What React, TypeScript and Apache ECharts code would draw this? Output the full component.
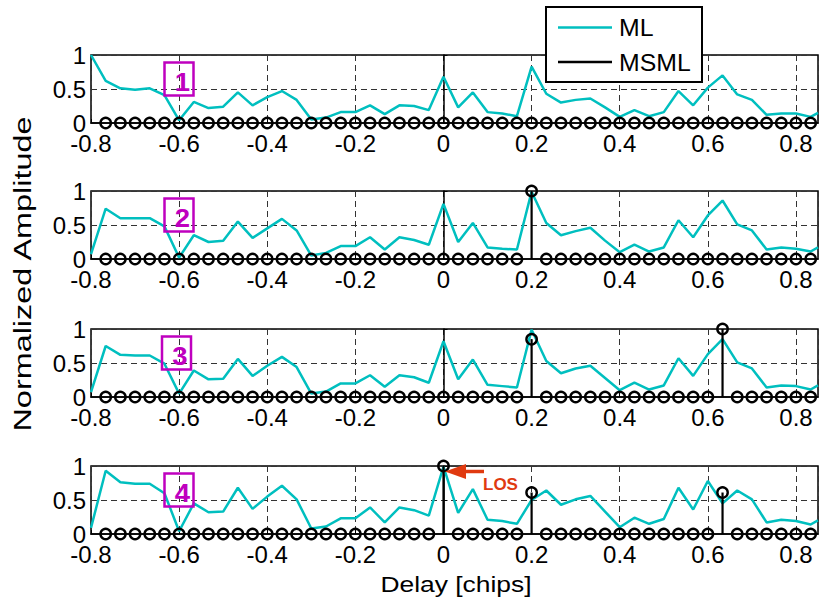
import React, { useEffect, useRef } from "react";
import * as echarts from "echarts";

// Tap spacing of the delay grid (chips) and tap index range
const TAP = 1 / 30;
const mlFirstTap = -24; // -0.8 chips
const mlLastTap = 25;
const mlEndDelay = 0.85; // axis limit, last plotted ML sample
const msmlFirstTap = -23;
const msmlLastTap = 25;

// ML normalized amplitude per panel (taps -24..25, then the 0.85 end point)
const ml1 = [1.0, 0.62, 0.51, 0.49, 0.51, 0.41, 0.04, 0.31, 0.22, 0.24, 0.45, 0.26, 0.38, 0.47, 0.34, 0.05, 0.08, 0.16, 0.16, 0.26, 0.13, 0.26, 0.25, 0.19,
  0.68, 0.23, 0.45, 0.16, 0.14, 0.10, 0.83, 0.43, 0.30, 0.34, 0.36, 0.23, 0.09, 0.19, 0.10, 0.16, 0.47, 0.26, 0.52, 0.70, 0.42, 0.34, 0.12, 0.14, 0.14, 0.09, 0.15];
const ml2 = [0.07, 0.74, 0.60, 0.60, 0.60, 0.48, 0.02, 0.35, 0.25, 0.27, 0.55, 0.31, 0.45, 0.59, 0.42, 0.05, 0.09, 0.19, 0.19, 0.32, 0.14, 0.32, 0.28, 0.21,
  0.81, 0.25, 0.53, 0.17, 0.15, 0.14, 0.99, 0.53, 0.35, 0.41, 0.46, 0.27, 0.10, 0.21, 0.11, 0.17, 0.57, 0.32, 0.64, 0.86, 0.51, 0.42, 0.14, 0.17, 0.15, 0.11, 0.17];
const ml3 = [0.07, 0.75, 0.62, 0.61, 0.61, 0.49, 0.05, 0.39, 0.26, 0.27, 0.56, 0.31, 0.46, 0.59, 0.44, 0.05, 0.08, 0.20, 0.20, 0.32, 0.15, 0.32, 0.29, 0.21,
  0.82, 0.26, 0.55, 0.18, 0.16, 0.14, 0.99, 0.53, 0.35, 0.42, 0.46, 0.28, 0.10, 0.21, 0.11, 0.17, 0.57, 0.31, 0.63, 0.85, 0.51, 0.42, 0.14, 0.17, 0.16, 0.11, 0.17];
const ml4 = [0.09, 0.93, 0.76, 0.74, 0.74, 0.60, 0.04, 0.45, 0.32, 0.33, 0.68, 0.37, 0.55, 0.71, 0.51, 0.08, 0.11, 0.23, 0.23, 0.39, 0.17, 0.39, 0.35, 0.27,
  0.99, 0.31, 0.66, 0.21, 0.19, 0.15, 0.50, 0.64, 0.43, 0.51, 0.56, 0.33, 0.10, 0.24, 0.15, 0.22, 0.68, 0.36, 0.78, 0.45, 0.64, 0.51, 0.17, 0.21, 0.19, 0.14, 0.20];

// MSML detected paths: tap indices and amplitudes (all other taps are 0)
const msml1Taps: number[] = [];
const msml1Amps: number[] = [];
const msml2Taps = [6];
const msml2Amps = [1.0];
const msml3Taps = [6, 19];
const msml3Amps = [0.85, 1.0];
const msml4Taps = [0, 6, 19];
const msml4Amps = [1.0, 0.61, 0.61];

const panelLabels = ["1", "2", "3", "4"];
const xTickStep = 0.2;
const yTicks = [0, 0.5, 1];

const FONT = "'Liberation Sans', Arial, Helvetica, sans-serif";
const CYAN = "#00BFBF";
const MAGENTA = "#BF00BF";
const RED = "#E03A10";

const mlDelays: number[] = [];
for (let k = mlFirstTap; k <= mlLastTap; k++) mlDelays.push(k * TAP);
mlDelays.push(mlEndDelay);

function msmlData(taps: number[], amps: number[]) {
  const out: number[][] = [];
  for (let k = msmlFirstTap; k <= msmlLastTap; k++) {
    const j = taps.indexOf(k);
    out.push([k * TAP, j >= 0 ? amps[j] : 0]);
  }
  return out;
}

const mlSets = [ml1, ml2, ml3, ml4];
const msmlSets = [
  msmlData(msml1Taps, msml1Amps),
  msmlData(msml2Taps, msml2Amps),
  msmlData(msml3Taps, msml3Amps),
  msmlData(msml4Taps, msml4Amps),
];

const GRID_LEFT = 91;
const GRID_WIDTH = 727;
const GRID_TOPS = [55, 191, 329, 466];
const GRID_H = 68;

export default function App() {
  const ref = useRef<HTMLDivElement>(null);
  useEffect(() => {
    if (!ref.current) return;
    const chart = echarts.init(ref.current, null, { renderer: "svg" });
    const grids: any[] = [];
    const xAxes: any[] = [];
    const yAxes: any[] = [];
    const series: any[] = [];
    const graphics: any[] = [];
    const splitStyle = { show: true, lineStyle: { color: "#333", type: [6, 4], width: 1 } };
    for (let i = 0; i < 4; i++) {
      grids.push({
        left: GRID_LEFT, width: GRID_WIDTH, top: GRID_TOPS[i], height: GRID_H,
        show: true, borderColor: "#000", borderWidth: 1.5, backgroundColor: "transparent",
      });
      xAxes.push({
        type: "value", gridIndex: i, min: -0.8, max: mlEndDelay, interval: xTickStep,
        axisLine: { show: true, onZero: false, lineStyle: { color: "#000", width: 1.5 } },
        axisTick: { show: true, inside: true, length: 4, lineStyle: { color: "#000" } },
        splitLine: splitStyle,
        axisLabel: {
          show: true, color: "#000", fontSize: 24, lineHeight: 18, fontFamily: FONT, margin: 11, showMaxLabel: false,
          formatter: (v: number) => {
            const r = Math.round(v * 10) / 10;
            return Math.abs(v - r) > 1e-6 ? "" : String(r === 0 ? 0 : r);
          },
        },
      });
      yAxes.push({
        type: "value", gridIndex: i, min: yTicks[0], max: yTicks[2], interval: yTicks[1] - yTicks[0],
        axisLine: { show: true, lineStyle: { color: "#000", width: 1.5 } },
        axisTick: { show: true, inside: true, length: 4, lineStyle: { color: "#000" } },
        splitLine: splitStyle,
        axisLabel: { color: "#000", fontSize: 24, lineHeight: 16, fontFamily: FONT, margin: 5, formatter: (v: number) => String(v) },
      });
      series.push({
        type: "line", name: "ML", xAxisIndex: i, yAxisIndex: i,
        data: mlDelays.map((x, j) => [x, mlSets[i][j]]),
        showSymbol: false, symbol: "none", clip: true,
        lineStyle: { color: CYAN, width: 2.5 }, z: 2,
      });
      series.push({
        type: "custom", name: "MSML", xAxisIndex: i, yAxisIndex: i,
        data: msmlSets[i], z: 3, clip: false,
        renderItem: (_p: any, api: any) => {
          const x = api.value(0);
          const y = api.value(1);
          const p0 = api.coord([x, 0]);
          const p1 = api.coord([x, y]);
          const children: any[] = [];
          if (y > 0) {
            children.push({ type: "line", shape: { x1: p0[0], y1: p0[1], x2: p1[0], y2: p1[1] }, style: { stroke: "#000", lineWidth: 2.2 } });
          }
          children.push({ type: "circle", shape: { cx: p1[0], cy: p1[1], r: 5.2 }, style: { fill: "none", stroke: "#000", lineWidth: 2.4 } });
          return { type: "group", children };
        },
      });
      // panel number boxes
      const bx = i === 2 ? 162 : 164.5;
      const by = GRID_TOPS[i] + 7.5;
      graphics.push({
        type: "rect", z: 50, shape: { x: bx, y: by, width: 29, height: 33 },
        style: { fill: "none", stroke: MAGENTA, lineWidth: 2.5 },
      });
      graphics.push({
        type: "text", z: 51, x: bx + 18, y: by + 20, scaleX: 1.1,
        style: { text: panelLabels[i], font: `bold 25px ${FONT}`, fill: MAGENTA, align: "center", verticalAlign: "middle" },
      });
    }

    // legend box
    graphics.push({ type: "rect", z: 100, shape: { x: 546, y: 7, width: 156, height: 75 }, style: { fill: "#fff", stroke: "#000", lineWidth: 2 } });
    graphics.push({ type: "line", z: 101, shape: { x1: 558, y1: 27.5, x2: 612, y2: 27.5 }, style: { stroke: CYAN, lineWidth: 2.5 } });
    graphics.push({ type: "text", z: 101, x: 619, y: 28, scaleX: 1.08, style: { text: "ML", font: `23px ${FONT}`, fill: "#000", verticalAlign: "middle" } });
    graphics.push({ type: "line", z: 101, shape: { x1: 558, y1: 62, x2: 612, y2: 62 }, style: { stroke: "#000", lineWidth: 2.5 } });
    graphics.push({ type: "text", z: 101, x: 619, y: 62.5, scaleX: 1.08, style: { text: "MSML", font: `23px ${FONT}`, fill: "#000", verticalAlign: "middle" } });

    // LOS annotation
    graphics.push({ type: "line", z: 60, shape: { x1: 484, y1: 471.5, x2: 460, y2: 471.5 }, style: { stroke: RED, lineWidth: 3.5 } });
    graphics.push({ type: "polygon", z: 60, shape: { points: [[445, 471.5], [466, 464], [466, 479]] }, style: { fill: RED } });
    graphics.push({ type: "text", z: 60, x: 483, y: 484, style: { text: "LOS", font: `bold 17px ${FONT}`, fill: RED, verticalAlign: "middle" } });

    // axis titles
    graphics.push({
      type: "text", z: 60, x: 23, y: 274, rotation: Math.PI / 2, scaleX: 1.35,
      style: { text: "Normalized Amplitude", font: `24px ${FONT}`, fill: "#000", align: "center", verticalAlign: "middle" },
    });
    graphics.push({
      type: "text", z: 60, x: 456, y: 584, scaleX: 1.2,
      style: { text: "Delay [chips]", font: `22px ${FONT}`, fill: "#000", align: "center", verticalAlign: "middle" },
    });

    chart.setOption({
      animation: false,
      backgroundColor: "#fff",
      grid: grids,
      xAxis: xAxes,
      yAxis: yAxes,
      series,
      graphic: graphics,
    });
    return () => chart.dispose();
  }, []);
  return <div ref={ref} style={{ width: 820, height: 605, position: "absolute", left: 0, top: 0 }} />;
}
